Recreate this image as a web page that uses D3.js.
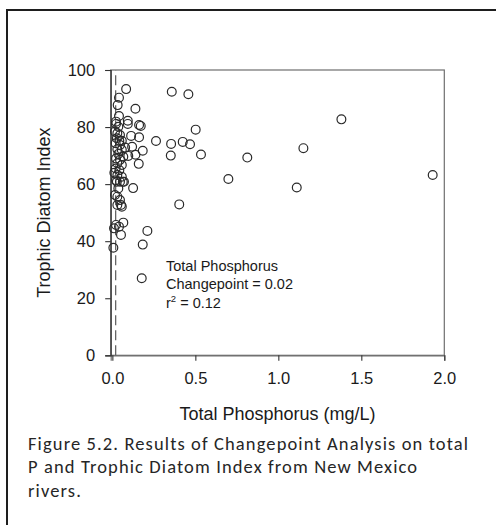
<!DOCTYPE html>
<html>
<head>
<meta charset="utf-8">
<script src="https://cdn.jsdelivr.net/npm/d3@7"></script>
<style>
  html, body { margin: 0; padding: 0; background: #fff; }
  svg { display: block; }
</style>
</head>
<body>
<svg id="chart" width="496" height="525"></svg>
<script>
// Total phosphorus (mg/L) for each sampled river site
const phosphorus = [
  0.458, 1.38, 0.502, 0.424, 0.468, 1.151, 0.534, 0.813, 0.699, 1.930, 1.111, 0.403,
  0.083, 0.358, 0.040, 0.032, 0.139, 0.040, 0.093, 0.093, 0.022, 0.161, 0.171,
  0.263, 0.354, 0.352, 0.161, 0.113, 0.183, 0.139, 0.096, 0.159, 0.119, 0.077,
  0.057, 0.066, 0.125,
  0.006, 0.010, 0.022, 0.040, 0.066, 0.052, 0.211, 0.183, 0.177,
  0.030, 0.052, 0.057, 0.016, 0.030, 0.046, 0.036, 0.063, 0.027,
  0.022, 0.036, 0.016, 0.030, 0.046, 0.027, 0.042, 0.020, 0.046, 0.030, 0.057,
  0.036, 0.022, 0.046, 0.030, 0.057, 0.020, 0.042, 0.012, 0.030, 0.057, 0.022,
  0.046, 0.070
];
// Trophic Diatom Index for the same sites
const tdi = [
  91.5, 82.7, 79.1, 74.8, 74.0, 72.6, 70.4, 69.3, 61.8, 63.2, 58.8, 52.9,
  93.3, 92.4, 90.3, 87.7, 86.4, 83.9, 82.2, 81.1, 81.1, 80.7, 80.4,
  75.1, 74.1, 70.0, 76.4, 76.9, 71.7, 70.3, 69.9, 67.1, 73.1, 72.8,
  75.2, 69.6, 58.6,
  37.7, 44.5, 45.7, 45.1, 46.5, 42.2, 43.6, 38.8, 27.0,
  52.7, 52.7, 52.1, 56.2, 55.6, 54.4, 58.5, 60.8, 60.8,
  81.9, 80.1, 78.4, 77.8, 77.2, 76.1, 75.2, 74.3, 73.7, 72.2, 72.0,
  70.6, 69.0, 68.5, 67.3, 66.7, 65.5, 64.9, 64.0, 63.2, 62.6, 61.4,
  60.8, 60.8
];
const xTicks = [0, 0.5, 1.0, 1.5, 2.0];
const yTicks = [0, 20, 40, 60, 80, 100];
const changepoint = 0.02;
const rSquared = 0.12;
const xTitle = "Total Phosphorus (mg/L)";
const yTitle = "Trophic Diatom Index";
const captionLines = [
  "Figure 5.2. Results of Changepoint Analysis on total",
  "P and Trophic Diatom Index from New Mexico",
  "rivers."
];

const svg = d3.select("#chart");
const axisFont = "'Liberation Sans', Arial, sans-serif";

// outer figure border (runs off the right and bottom edges)
svg.append("rect")
  .attr("x", 7).attr("y", 10)
  .attr("width", 520).attr("height", 540)
  .attr("fill", "none")
  .attr("stroke", "#1e1e1e")
  .attr("stroke-width", 2);

const plot = { left: 110.7, right: 444.3, top: 70, bottom: 355.3 };

const x = d3.scaleLinear()
  .domain([-0.01, 2.0])
  .range([plot.left, plot.right]);
const y = d3.scaleLinear()
  .domain([0, 100])
  .range([plot.bottom, plot.top]);

// frame
svg.append("rect")
  .attr("x", plot.left).attr("y", plot.top)
  .attr("width", plot.right - plot.left)
  .attr("height", plot.bottom - plot.top)
  .attr("fill", "none")
  .attr("stroke", "#6e6e6e")
  .attr("stroke-width", 1.2);

// axes
const xAxis = svg.append("g")
  .attr("transform", `translate(0,${plot.bottom})`)
  .call(d3.axisBottom(x).tickValues(xTicks).tickFormat(d3.format(".1f"))
    .tickSize(5.5).tickPadding(11));
const yAxis = svg.append("g")
  .attr("transform", `translate(${plot.left},0)`)
  .call(d3.axisLeft(y).tickValues(yTicks).tickSize(5.5).tickPadding(10));

[xAxis, yAxis].forEach(g => {
  g.select(".domain").attr("stroke", "#333").attr("stroke-width", 1.2);
  g.selectAll(".tick line").attr("stroke", "#333").attr("stroke-width", 1.1);
  g.selectAll(".tick text")
    .attr("fill", "#1a1a1a")
    .style("font-family", axisFont)
    .style("font-size", "16.5px");
});
xAxis.select(".domain").attr("stroke", "#6e6e6e");

// changepoint marker
svg.append("line")
  .attr("x1", x(changepoint)).attr("x2", x(changepoint))
  .attr("y1", y(0)).attr("y2", y(100))
  .attr("stroke", "#5a5a5a")
  .attr("stroke-width", 1.2)
  .attr("stroke-dasharray", "10,5");

// observations
svg.append("g")
  .selectAll("circle")
  .data(d3.zip(phosphorus, tdi))
  .join("circle")
  .attr("cx", d => x(d[0]))
  .attr("cy", d => y(d[1]))
  .attr("r", 4.4)
  .attr("fill", "none")
  .attr("stroke", "#2a2a2a")
  .attr("stroke-width", 1.2);

// annotation
const note = svg.append("text")
  .attr("x", 166)
  .attr("y", 270.5)
  .attr("fill", "#1a1a1a")
  .style("font-family", axisFont)
  .style("font-size", "14.5px");
note.append("tspan").attr("x", 166).text("Total Phosphorus");
note.append("tspan").attr("x", 166).attr("dy", 18.5)
  .text(`Changepoint = ${d3.format(".2f")(changepoint)}`);
const r2 = note.append("tspan").attr("x", 166).attr("dy", 18.5).text("r");
r2.append("tspan").attr("dy", -6).style("font-size", "9.5px").text("2");
r2.append("tspan").attr("dy", 6).text(` = ${d3.format(".2f")(rSquared)}`);

// axis titles
svg.append("text")
  .attr("x", (plot.left + plot.right) / 2)
  .attr("y", 420)
  .attr("text-anchor", "middle")
  .attr("fill", "#1a1a1a")
  .style("font-family", axisFont)
  .style("font-size", "18px")
  .text(xTitle);

svg.append("text")
  .attr("transform", `translate(50,${(plot.top + plot.bottom) / 2}) rotate(-90)`)
  .attr("text-anchor", "middle")
  .attr("fill", "#1a1a1a")
  .style("font-family", axisFont)
  .style("font-size", "18px")
  .text(yTitle);

// caption, loosely tracked so the first line fills the text block
const capText = svg.append("g")
  .attr("fill", "#262626")
  .style("font-family", "Carlito, Calibri, 'Open Sans', sans-serif")
  .style("font-size", "18.5px")
  .selectAll("text")
  .data(captionLines)
  .join("text")
  .attr("x", 28)
  .attr("y", (d, i) => 450 + i * 23.4)
  .text(d => d);
const first = capText.node();
const natural = first.getComputedTextLength();
const spacing = Math.max(0, (440 - natural) / (captionLines[0].length - 1));
capText.style("letter-spacing", spacing + "px");
</script>
</body>
</html>
